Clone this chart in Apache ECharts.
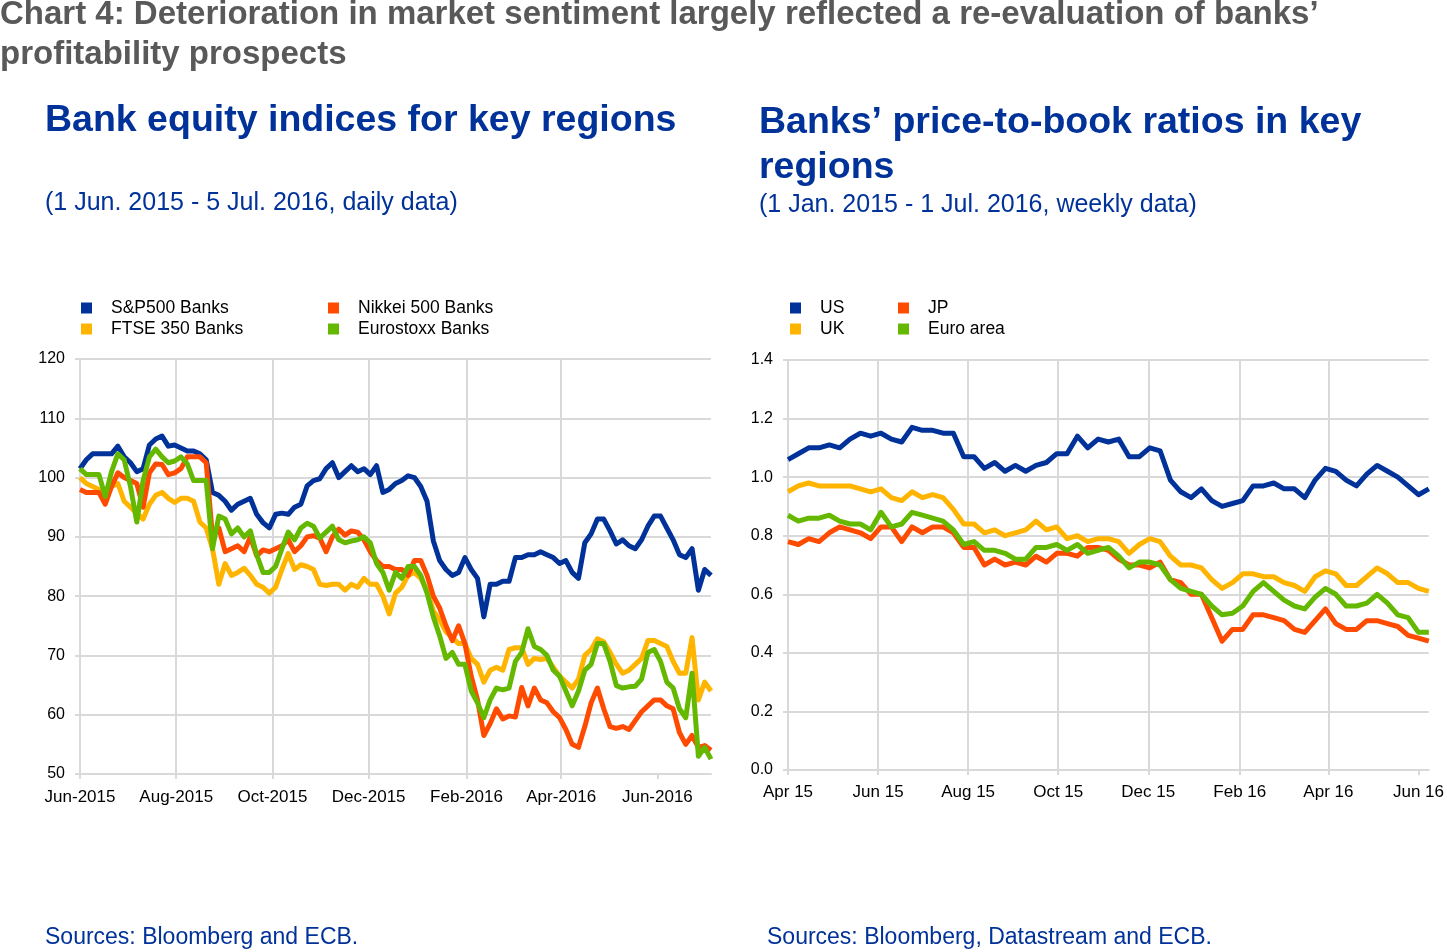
<!DOCTYPE html>
<html>
<head>
<meta charset="utf-8">
<script src="https://cdn.jsdelivr.net/npm/echarts@6/dist/echarts.min.js"></script>
<style>
html,body{margin:0;padding:0;background:#fff;}
#chart{width:1447px;height:952px;}
</style>
</head>
<body>
<div id="chart"></div>
<script>
// ---------- Left chart: bank equity indices (sampled every 4 days from 1 Jun 2015) ----------
const leftStart = '2015-06-01';
const leftStepDays = 4;
const leftTickDates = ['2015-06-01','2015-08-01','2015-10-01','2015-12-01','2016-02-01','2016-04-01','2016-06-01'];
const leftSeriesNames = ['S&P500 Banks','FTSE 350 Banks','Nikkei 500 Banks','Eurostoxx Banks'];
const sp500Banks = [101.5,103,104,104,104,104,105.3,103.5,102.5,101,101.5,105.5,106.5,107,105.3,105.5,105,104.5,104.5,104,103,97.5,97,96,94.5,95.5,96,96.5,93.8,92.4,91.5,93.8,94,93.8,95,95.5,98.6,99.5,99.8,101.5,102.5,100,101,102,101,101.5,100.5,102,97.5,98,99,99.5,100.3,100,98.5,96,89.3,86,84.5,83.5,84,86.5,84.5,83,76.5,82,82,82.5,82.5,86.5,86.5,87,87,87.5,87,86.5,85.5,86,84,83,89,90.5,93,93,91,88.8,89.5,88.5,88,89.5,91.8,93.5,93.5,91.5,89.5,87,86.5,88,81,84.5,83.5];
const ftse350Banks = [100,99,98.5,98,97.5,98.5,99,96,95,94,93,95.5,97,97.5,96.5,95.8,96.5,96.5,96,92.5,91.5,88,82,85.5,83.5,84,84.7,83.5,82,81.5,80.5,81.5,84.5,87.2,84.5,85.3,85,84.5,82,81.8,82,82,81,82,81.5,83,82,82,80,77,80.5,81.5,83.5,84,83,81,77.5,76,74,73,72,72,69.5,68.5,65.5,67.5,68,67.5,71,71.3,71.3,68.5,69.5,69.3,69.5,68,66.5,65.5,64.5,66,70,71,72.8,72.3,70.5,68.5,67,67.5,68.5,69.5,72.5,72.5,72,71.5,69,67,67,73,62.5,65.5,64];
const nikkei500Banks = [98,97.5,97.5,97.5,95.5,98.5,100.8,100,99.5,99,95,100.8,102.3,102.2,100.5,100.8,101.5,103.5,103.5,103.5,102.5,90,91.5,87.5,88,88.5,87.5,90,86.8,87.8,87.5,88,88.5,89.5,87.5,88.5,90,90.2,89.8,87.5,90,91.3,90.3,91,90.8,89.5,87.5,86,85,85,84.5,84.5,83.5,86,86,83.5,80,78,75,72.5,75,72,66.5,62.5,56.5,58.5,61,59.3,59.8,59.6,64.6,61.5,64.5,62.5,62,60.5,59.5,57.5,55,54.5,58,62,64.5,61,58,57.7,58,57.5,59,60.5,61.5,62.5,62.5,61.5,61,57,55,56.5,54.5,54.8,54];
const eurostoxxBanks = [101.5,100.5,100.5,100.5,96.8,101,104,103,98.5,92.5,99.5,103.5,104.8,103.5,102.5,102.8,103.5,102.3,99.5,99.5,99.5,88,93.5,93,90.5,91.5,90,91,87,84,84,85,88,90.8,89.5,91.5,92.3,91.8,89.8,90.8,91.8,89.5,89,89.3,89.5,90,89,85.5,84,81,84,83,85,85,83.5,80.5,76.5,73.3,69.5,70.5,68.5,68.5,64,62,59.5,62.5,64.5,64.2,64.5,69,70.5,74.5,71.5,71,70,67.5,66.5,64,61.5,64,67.5,68.5,72,72,69,64.9,64.5,64.7,64.8,66,70.5,71,69,65.5,64.5,61,59.5,67,53,54.5,52.5];
const leftYTicks = {min:50, max:120, interval:10};

// ---------- Right chart: price-to-book ratios (weekly from 1 Apr 2015) ----------
const rightStart = '2015-04-01';
const rightStepDays = 7;
const rightTickDates = ['2015-04-01','2015-06-01','2015-08-01','2015-10-01','2015-12-01','2016-02-01','2016-04-01','2016-06-01'];
const rightSeriesNames = ['US','UK','JP','Euro area'];
const pbUS = [1.06,1.08,1.10,1.10,1.11,1.10,1.13,1.15,1.14,1.15,1.13,1.12,1.17,1.16,1.16,1.15,1.15,1.07,1.07,1.03,1.05,1.02,1.04,1.02,1.04,1.05,1.08,1.08,1.14,1.10,1.13,1.12,1.13,1.07,1.07,1.10,1.09,0.99,0.95,0.93,0.96,0.92,0.90,0.91,0.92,0.97,0.97,0.98,0.96,0.96,0.93,0.99,1.03,1.02,0.99,0.97,1.01,1.04,1.02,1.00,0.97,0.94,0.96];
const pbUK = [0.95,0.97,0.98,0.97,0.97,0.97,0.97,0.96,0.95,0.96,0.93,0.92,0.95,0.93,0.94,0.93,0.89,0.84,0.84,0.81,0.82,0.80,0.81,0.82,0.85,0.82,0.83,0.79,0.80,0.78,0.79,0.79,0.78,0.74,0.77,0.79,0.78,0.73,0.70,0.70,0.69,0.65,0.62,0.64,0.67,0.67,0.66,0.66,0.64,0.63,0.61,0.66,0.68,0.67,0.63,0.63,0.66,0.69,0.67,0.64,0.64,0.62,0.61];
const pbJP = [0.78,0.77,0.79,0.78,0.81,0.83,0.82,0.81,0.79,0.83,0.83,0.78,0.83,0.81,0.83,0.83,0.81,0.76,0.76,0.70,0.72,0.70,0.71,0.70,0.73,0.71,0.74,0.74,0.73,0.76,0.76,0.75,0.72,0.70,0.70,0.69,0.71,0.65,0.64,0.60,0.60,0.52,0.44,0.48,0.48,0.53,0.53,0.52,0.51,0.48,0.47,0.51,0.55,0.50,0.48,0.48,0.51,0.51,0.50,0.49,0.46,0.45,0.44];
const pbEA = [0.87,0.85,0.86,0.86,0.87,0.85,0.84,0.84,0.82,0.88,0.83,0.84,0.88,0.87,0.86,0.85,0.82,0.77,0.78,0.75,0.75,0.74,0.72,0.72,0.76,0.76,0.77,0.75,0.77,0.74,0.75,0.76,0.73,0.69,0.71,0.71,0.70,0.65,0.62,0.61,0.60,0.56,0.53,0.535,0.56,0.61,0.64,0.61,0.58,0.56,0.55,0.59,0.62,0.60,0.56,0.56,0.57,0.60,0.57,0.53,0.52,0.47,0.47];
const rightYTicks = {min:0, max:1.4, interval:0.2};

// ---------- helpers ----------
const DAY = 86400000;
const MONTHS = ['Jan','Feb','Mar','Apr','May','Jun','Jul','Aug','Sep','Oct','Nov','Dec'];
function utc(s){ const p = s.split('-').map(Number); return Date.UTC(p[0], p[1]-1, p[2]); }
function dayOffset(dateStr, startStr){ return Math.round((utc(dateStr) - utc(startStr)) / DAY); }
function dateFromOffset(startStr, d){ return new Date(utc(startStr) + d*DAY); }
function toPairs(values, step){ return values.map((v,i)=>[i*step, v]); }

const FONT = "'Liberation Sans', Arial, sans-serif";
const COLORS = {blue:'#003299', yellow:'#ffb400', orange:'#ff4b00', green:'#65b800'};
const GRID = '#d9d9d9';

const leftTicks = leftTickDates.map(d=>dayOffset(d, leftStart));
const rightTicks = rightTickDates.map(d=>dayOffset(d, rightStart));
const leftMax = (sp500Banks.length-1)*leftStepDays;
const rightMax = (pbUS.length-1)*rightStepDays;

function xAxisDef(gridIndex, ticks, maxV, margin, fmt){
  return {
    type:'value', gridIndex, min:0, max:maxV, interval:61,
    axisLine:{show:true, lineStyle:{color:GRID, width:2}},
    axisTick:{show:true, length:5, lineStyle:{color:GRID, width:2}, customValues:ticks},
    axisLabel:{fontFamily:FONT, fontSize:17, color:'#000', margin, customValues:ticks, hideOverlap:false, formatter:fmt},
    splitLine:{show:true, showMaxLine:false, lineStyle:{color:GRID, width:2}}
  };
}
function yAxisDef(gridIndex, t, fmt){
  return {
    type:'value', gridIndex, min:t.min, max:t.max, interval:t.interval,
    axisLine:{show:true, lineStyle:{color:GRID, width:2}},
    axisTick:{show:true, length:5, lineStyle:{color:GRID, width:2}},
    axisLabel:{fontFamily:FONT, fontSize:16, color:'#000', margin:15, formatter:fmt},
    splitLine:{show:true, lineStyle:{color:GRID, width:2}}
  };
}
function lineSeries(name, data, color, xi){
  return {name, type:'line', xAxisIndex:xi, yAxisIndex:xi, data, showSymbol:false, symbol:'none',
    lineStyle:{width:5, color, join:'round'}, itemStyle:{color}, emphasis:{disabled:true}, animation:false};
}
function legendDef(name, left, top){
  return {data:[{name, icon:'rect'}], left, top, padding:0, itemWidth:11, itemHeight:11, selectedMode:false,
    textStyle:{fontFamily:FONT, fontSize:17.5, color:'#000', padding:[0,0,0,14]}};
}
function titleDef(text, left, top, size, weight, color, lh){
  return {text, left, top, padding:0, textStyle:{fontFamily:FONT, fontSize:size, fontWeight:weight, color, lineHeight:lh}};
}

const chart = echarts.init(document.getElementById('chart'), null, {renderer:'canvas'});
chart.setOption({
  backgroundColor:'#fff',
  animation:false,
  title:[
    titleDef('Chart 4: Deterioration in market sentiment largely reflected a re-evaluation of banks’\nprofitability prospects', 0, -5, 33, 'bold', '#595959', 40),
    titleDef('Bank equity indices for key regions', 45, 99, 37.5, 'bold', COLORS.blue, 44),
    titleDef('(1 Jun. 2015 - 5 Jul. 2016, daily data)', 45, 188, 25, 'normal', COLORS.blue, 30),
    titleDef('Banks’ price-to-book ratios in key\nregions', 759, 100, 37.5, 'bold', COLORS.blue, 45),
    titleDef('(1 Jan. 2015 - 1 Jul. 2016, weekly data)', 759, 190, 25, 'normal', COLORS.blue, 30),
    titleDef('Sources: Bloomberg and ECB.', 45, 925, 23, 'normal', COLORS.blue, 26),
    titleDef('Sources: Bloomberg, Datastream and ECB.', 767, 925, 23, 'normal', COLORS.blue, 26)
  ],
  legend:[
    legendDef(leftSeriesNames[0], 81, 299),
    legendDef(leftSeriesNames[2], 328, 299),
    legendDef(leftSeriesNames[1], 81, 320),
    legendDef(leftSeriesNames[3], 328, 320),
    legendDef(rightSeriesNames[0], 790, 299),
    legendDef(rightSeriesNames[2], 898, 299),
    legendDef(rightSeriesNames[1], 790, 320),
    legendDef(rightSeriesNames[3], 898, 320)
  ],
  grid:[
    {left:80, right:1447-711, top:359, bottom:952-774, containLabel:false},
    {left:788, right:14, top:360, bottom:952-770, containLabel:false}
  ],
  xAxis:[
    xAxisDef(0, leftTicks, leftMax, 15, v=>{ const d=dateFromOffset(leftStart, v); return MONTHS[d.getUTCMonth()]+'-'+d.getUTCFullYear(); }),
    xAxisDef(1, rightTicks, rightMax, 14, v=>{ const d=dateFromOffset(rightStart, v); return MONTHS[d.getUTCMonth()]+' '+String(d.getUTCFullYear()).slice(2); })
  ],
  yAxis:[
    yAxisDef(0, leftYTicks, v=>String(v)),
    yAxisDef(1, rightYTicks, v=>v.toFixed(1))
  ],
  series:[
    lineSeries(leftSeriesNames[0], toPairs(sp500Banks, leftStepDays), COLORS.blue, 0),
    lineSeries(leftSeriesNames[1], toPairs(ftse350Banks, leftStepDays), COLORS.yellow, 0),
    lineSeries(leftSeriesNames[2], toPairs(nikkei500Banks, leftStepDays), COLORS.orange, 0),
    lineSeries(leftSeriesNames[3], toPairs(eurostoxxBanks, leftStepDays), COLORS.green, 0),
    lineSeries(rightSeriesNames[0], toPairs(pbUS, rightStepDays), COLORS.blue, 1),
    lineSeries(rightSeriesNames[1], toPairs(pbUK, rightStepDays), COLORS.yellow, 1),
    lineSeries(rightSeriesNames[2], toPairs(pbJP, rightStepDays), COLORS.orange, 1),
    lineSeries(rightSeriesNames[3], toPairs(pbEA, rightStepDays), COLORS.green, 1)
  ]
});
</script>
</body>
</html>
